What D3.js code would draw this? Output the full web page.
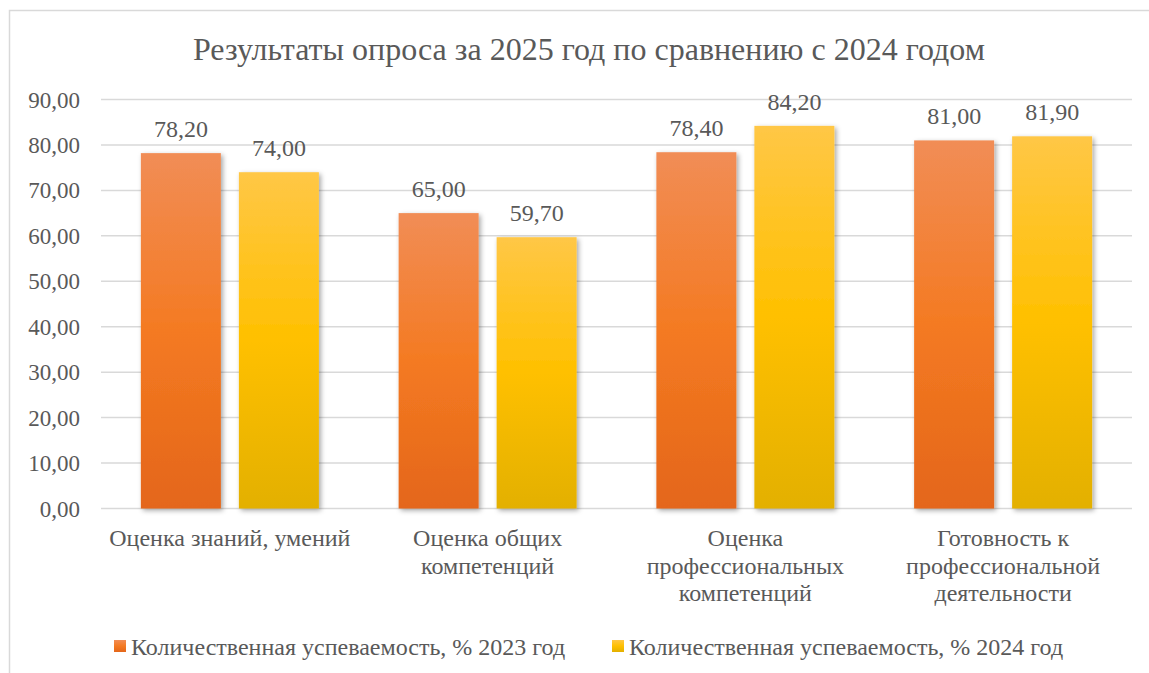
<!DOCTYPE html>
<html><head><meta charset="utf-8">
<script src="https://cdn.jsdelivr.net/npm/d3@7"></script>
<style>body{margin:0;background:#fff}svg{display:block}
svg text{font-family:"Liberation Serif","Tinos","DejaVu Serif","Noto Serif","Times New Roman",serif !important}</style>
</head><body>
<svg id="c" width="1149" height="673"></svg>
<script>
const title = "Результаты опроса за 2025 год по сравнению с 2024 годом";
const categories = [
  ["Оценка знаний, умений"],
  ["Оценка общих", "компетенций"],
  ["Оценка", "профессиональных", "компетенций"],
  ["Готовность к", "профессиональной", "деятельности"]
];
const seriesNames = ["Количественная успеваемость, % 2023 год", "Количественная успеваемость, % 2024 год"];
const values2023 = [78.2, 65.0, 78.4, 81.0];
const values2024 = [74.0, 59.7, 84.2, 81.9];
const yTicks = [0,10,20,30,40,50,60,70,80,90];

const svg = d3.select("#c");
const fmt = v => v.toFixed(2).replace(".", ",");
const TXT = "#595959";

const defs = svg.append("defs");
function grad(id, stops){
  const g = defs.append("linearGradient").attr("id", id).attr("x1",0).attr("y1",0).attr("x2",0).attr("y2",1);
  stops.forEach(s => g.append("stop").attr("offset", s[0]).attr("stop-color", s[1]));
}
grad("gO", [[0,"#F18D56"],[0.5,"#F47A22"],[1,"#E4661A"]]);
grad("gY", [[0,"#FFC746"],[0.5,"#FFC000"],[1,"#E3B000"]]);
const f = defs.append("filter").attr("id","sh").attr("x","-20%").attr("y","-10%").attr("width","150%").attr("height","130%");
f.append("feDropShadow").attr("dx",2).attr("dy",2).attr("stdDeviation",2.5).attr("flood-color","#000").attr("flood-opacity",0.35);

svg.append("path").attr("d","M9.5,673 V10.5 H1149").attr("fill","none").attr("stroke","#d9d9d9").attr("stroke-width",1.5);

svg.append("text").attr("x",589).attr("y",60).attr("text-anchor","middle")
  .attr("fill",TXT).style("font-size","32px").text(title);

const x0 = 101, x1 = 1132;
const y = d3.scaleLinear().domain([0,90]).range([508.5, 99.5]);
const x = d3.scaleBand().domain(d3.range(categories.length)).range([x0, x1]).paddingInner(0).paddingOuter(0);
const bw = 80, gap = 18;

const gAxis = svg.append("g");
gAxis.selectAll("line").data(yTicks).join("line")
  .attr("x1", x0).attr("x2", x1).attr("y1", d => y(d)).attr("y2", d => y(d))
  .attr("stroke", "#d9d9d9").attr("stroke-width", 1.5);
gAxis.selectAll("text").data(yTicks).join("text")
  .attr("x", 80).attr("y", d => y(d) + 8).attr("text-anchor","end")
  .attr("fill",TXT).style("font-size","23px").text(d => fmt(d));

const series = [
  {vals: values2023, fill: "url(#gO)", off: -(bw + gap/2)},
  {vals: values2024, fill: "url(#gY)", off: gap/2}
];
series.forEach(s => {
  const g = svg.append("g");
  g.selectAll("rect").data(s.vals).join("rect")
    .attr("x", (d,i) => x(i) + x.bandwidth()/2 + s.off)
    .attr("y", d => y(d)).attr("width", bw).attr("height", d => y(0) - y(d))
    .attr("fill", s.fill).attr("filter","url(#sh)");
  g.selectAll("text").data(s.vals).join("text")
    .attr("x", (d,i) => x(i) + x.bandwidth()/2 + s.off + bw/2)
    .attr("y", d => y(d) - 16).attr("text-anchor","middle")
    .attr("fill",TXT).style("font-size","24px").text(d => fmt(d));
});

const cg = svg.append("g");
categories.forEach((lines, i) => {
  const t = cg.append("text").attr("text-anchor","middle").attr("fill",TXT).style("font-size","24px");
  lines.forEach((l, j) => t.append("tspan").attr("x", x(i) + x.bandwidth()/2).attr("y", 546 + j*27.5).text(l));
});

const legend = [{n: seriesNames[0], fill:"url(#gO)", x:114}, {n: seriesNames[1], fill:"url(#gY)", x:612}];
const lg = svg.append("g");
legend.forEach(l => {
  lg.append("rect").attr("x", l.x).attr("y", 640).attr("width", 12).attr("height", 12).attr("fill", l.fill);
  lg.append("text").attr("x", l.x + 17).attr("y", 655).attr("fill",TXT).style("font-size","24px").text(l.n);
});
</script>
</body></html>
